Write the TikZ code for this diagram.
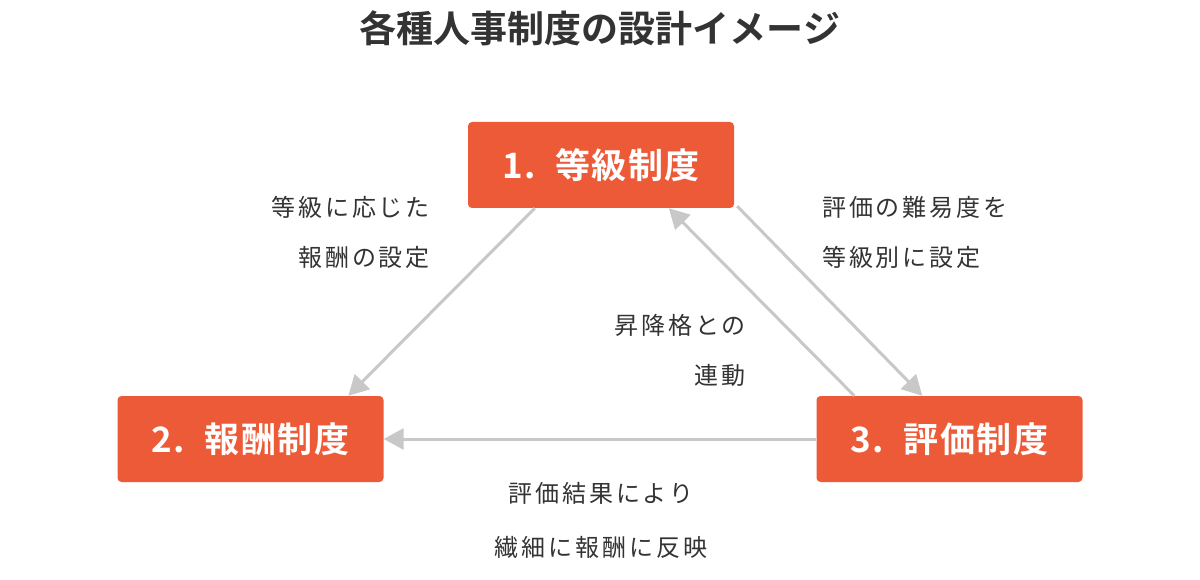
\documentclass[tikz,border=0pt]{standalone}
\usepackage{fontspec}
\setmainfont{Noto Sans CJK JP}
\newfontfamily\jpbold[BoldFont={* Bold}]{Noto Sans CJK JP}
\newfontfamily\jpboxfont[BoldFont={* Bold},LetterSpace=4]{Noto Sans CJK JP}
\newfontfamily\jplabel[LetterSpace=12]{Noto Sans CJK JP}
\usetikzlibrary{arrows.meta}
\definecolor{boxred}{HTML}{EC5A38}
\definecolor{arrowgray}{HTML}{C8C8C8}
\definecolor{textdark}{HTML}{333333}
\tikzset{
  sysbox/.style={fill=boxred, rounded corners=4pt, minimum width=266pt, minimum height=86pt,
    inner sep=0pt, text=white, font=\jpboxfont\bfseries\fontsize{35}{38}\selectfont},
  flowarrow/.style={draw=arrowgray, line width=3pt, -{Triangle[length=20pt,width=21pt]}},
  lbl/.style={text=textdark, font=\jplabel\fontsize{24}{26}\selectfont, inner sep=0pt},
}
\begin{document}
\begin{tikzpicture}[x=1pt,y=-1pt]
\useasboundingbox (0,0) rectangle (1200,580);
\node[text=textdark, font=\jpbold\bfseries\fontsize{37}{40}\selectfont] (title) at (600,28) {各種人事制度の設計イメージ};
\node[sysbox] (b1) at (601,165) {1.\hspace{7pt} 等級制度};
\node[sysbox] (b2) at (250.5,439) {2.\hspace{7pt} 報酬制度};
\node[sysbox] (b3) at (949.5,439) {3.\hspace{7pt} 評価制度};
\draw[flowarrow] ([xshift=67pt]b1.south west) -- ([xshift=231pt]b2.north west);
\draw[flowarrow] ([xshift=3pt,yshift=2pt]b1.south east) -- ([xshift=106pt]b3.north west);
\draw[flowarrow] ([xshift=38pt]b3.north west) -- ([xshift=201pt]b1.south west);
\draw[flowarrow] (b3.west) -- (b2.east);
\node[lbl, anchor=east] (l1a) at (430,207) {等級に応じた};
\node[lbl, anchor=east] (l1b) at (430,257) {報酬の設定};
\node[lbl, anchor=west] (l2a) at (822,207) {評価の難易度を};
\node[lbl, anchor=west] (l2b) at (822,257) {等級別に設定};
\node[lbl, anchor=east] (l3a) at (746,325) {昇降格との};
\node[lbl, anchor=east] (l3b) at (746,375) {連動};
\node[lbl] (l4a) at (601,493) {評価結果により};
\node[lbl] (l4b) at (601,547) {繊細に報酬に反映};
\end{tikzpicture}
\end{document}
